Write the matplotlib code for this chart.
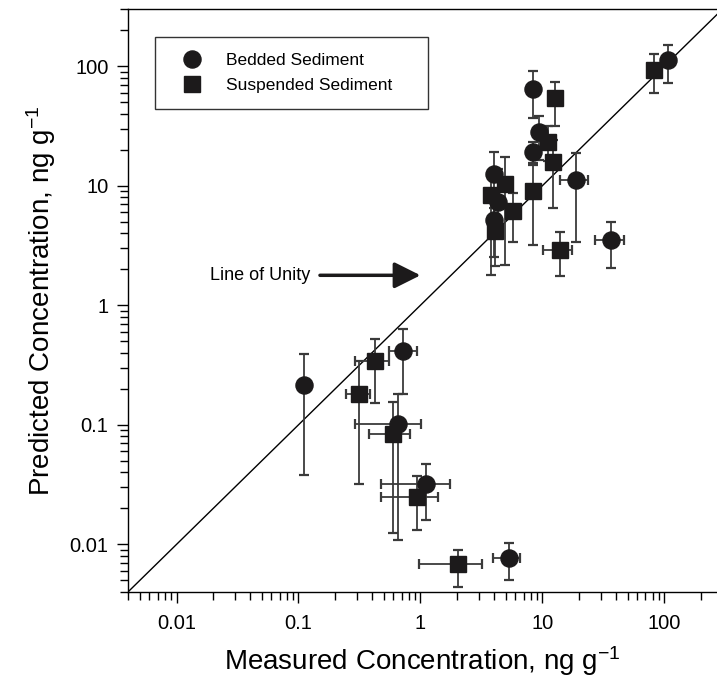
import numpy as np
import matplotlib
matplotlib.use("Agg")
import matplotlib.pyplot as plt
from matplotlib.ticker import FixedLocator, FixedFormatter, LogLocator, NullFormatter

plt.rcParams['font.family'] = ['Liberation Sans', 'DejaVu Sans']
plt.rcParams['mathtext.default'] = 'regular'

# 측정값 / 예측값 (ng/g), 오차 범위는 하한/상한 값
bed_x = [108, 8.3, 9.4, 8.3, 18.8, 4.0, 4.3, 4.0, 36.6, 0.110, 0.715, 0.654, 1.115, 5.28]
bed_y = [112, 64, 28, 19, 11.2, 12.4, 7.3, 5.2, 3.5, 0.217, 0.416, 0.102, 0.0318, 0.0077]
bed_ylo = [72, 37, 16.3, 15.5, 3.4, 2.55, 4.5, 4.0, 2.06, 0.038, 0.18, 0.0109, 0.016, 0.005]
bed_yhi = [151, 91, 38.5, 23, 18.6, 19.3, 13.8, 6.5, 5.0, 0.39, 0.635, 0.18, 0.0467, 0.0103]
bed_xlo = [None, None, None, None, 14, None, None, None, 27, None, 0.55, 0.29, 0.477, 3.95]
bed_xhi = [None, None, None, None, 23.6, None, None, None, 46.5, None, 0.93, 1.01, 1.76, 6.6]

sus_x = [82, 12.7, 11.2, 12.3, 8.3, 4.9, 3.8, 5.7, 4.05, 13.9, 0.42, 0.311, 0.595, 0.94, 2.03]
sus_y = [93, 54, 23, 15.7, 9.1, 10.3, 8.3, 6.1, 4.2, 2.9, 0.34, 0.181, 0.083, 0.025, 0.0068]
sus_ylo = [60, 31.4, 16, 6.5, 3.2, 2.17, 1.79, 3.4, 2.14, 1.75, 0.152, 0.0318, 0.0124, 0.0131, 0.0044]
sus_yhi = [126, 74, 31.8, 24, 15, 17.3, 12, 8.7, 5.5, 4.1, 0.52, 0.343, 0.154, 0.0374, 0.009]
sus_xlo = [None, None, None, None, None, None, None, None, None, 10.1, 0.29, 0.246, 0.376, 0.477, 0.966]
sus_xhi = [None, None, None, None, None, None, None, None, None, 17.5, 0.55, 0.383, 0.815, 1.39, 3.2]

tick_vals = [0.01, 0.1, 1, 10, 100]
tick_labels = ['0.01', '0.1', '1', '10', '100']
lims_x = (0.004, 270)
lims_y = (0.004, 300)


def err(center, lo, hi):
    c = np.asarray(center, dtype=float)
    lo = np.array([np.nan if v is None else v for v in lo], dtype=float)
    hi = np.array([np.nan if v is None else v for v in hi], dtype=float)
    return np.vstack([c - lo, hi - c])


fig = plt.figure(figsize=(7.17, 6.85), dpi=100)
ax = fig.add_axes([0.1785, 0.1358, 0.8215, 0.851])

# 1:1 선 (Line of Unity)
ax.plot([lims_x[0], lims_y[1]], [lims_x[0], lims_y[1]], color='black', lw=1.0, zorder=1)

eb_style = dict(fmt='none', ecolor='#3a3a3a', elinewidth=1.3, capsize=3.8, capthick=1.6, zorder=2)
ax.errorbar(bed_x, bed_y, yerr=err(bed_y, bed_ylo, bed_yhi), **eb_style)
ax.errorbar(bed_x, bed_y, xerr=err(bed_x, bed_xlo, bed_xhi), **eb_style)
ax.errorbar(sus_x, sus_y, yerr=err(sus_y, sus_ylo, sus_yhi), **eb_style)
ax.errorbar(sus_x, sus_y, xerr=err(sus_x, sus_xlo, sus_xhi), **eb_style)

ax.plot(bed_x, bed_y, 'o', ms=12.3, color='#1c1a1b', mec='#1c1a1b', ls='none',
        label='Bedded Sediment', zorder=3)
ax.plot(sus_x, sus_y, 's', ms=11, color='#1c1a1b', mec='#1c1a1b', ls='none',
        label='Suspended Sediment', zorder=3)

ax.set_xscale('log')
ax.set_yscale('log')
ax.set_xlim(*lims_x)
ax.set_ylim(*lims_y)

for axis in (ax.xaxis, ax.yaxis):
    axis.set_major_locator(FixedLocator(tick_vals))
    axis.set_major_formatter(FixedFormatter(tick_labels))
    axis.set_minor_locator(LogLocator(base=10, subs=np.arange(2, 10), numticks=20))
    axis.set_minor_formatter(NullFormatter())

ax.tick_params(which='major', direction='out', length=8, width=1, labelsize=14.5, pad=6)
ax.tick_params(axis='x', which='major', pad=8)
ax.tick_params(which='minor', direction='out', length=5.5, width=1)
ax.spines['right'].set_visible(False)
for s in ('left', 'bottom', 'top'):
    ax.spines[s].set_linewidth(1.0)

ax.set_xlabel(r'Measured Concentration, ng g$^{-1}$', fontsize=20, labelpad=8)
ax.set_ylabel(r'Predicted Concentration, ng g$^{-1}$', fontsize=20, labelpad=8)

# 화살표와 설명
ax.annotate('', xy=(1.0, 1.78), xytext=(0.15, 1.78),
            arrowprops=dict(arrowstyle='-|>', lw=2.5, mutation_scale=40, color='#1c1a1b',
                            shrinkA=0, shrinkB=0))
ax.text(0.0188, 1.78, 'Line of Unity', fontsize=13, ha='left', va='center')

leg = ax.legend(loc='upper left', bbox_to_anchor=(0.046, 0.84, 0.464, 0.112), mode='expand',
                fontsize=12.5, borderpad=0.9, handlelength=2.5, handletextpad=0.7,
                labelspacing=0.6, borderaxespad=0, fancybox=False, framealpha=1)
leg.get_frame().set_edgecolor('#333333')
leg.get_frame().set_linewidth(1.0)

fig.savefig('out.png', dpi=100)
